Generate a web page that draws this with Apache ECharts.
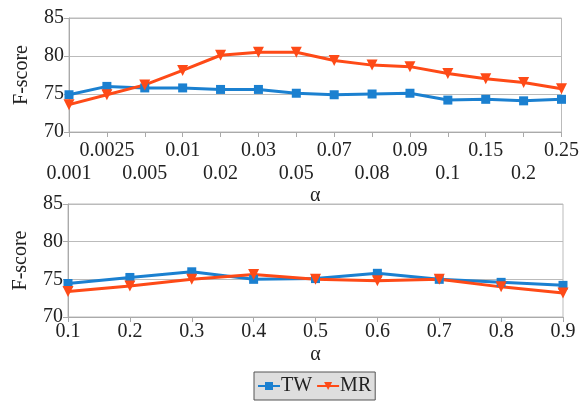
<!DOCTYPE html>
<html><head><meta charset="utf-8">
<script src="https://cdn.jsdelivr.net/npm/echarts@6/dist/echarts.min.js"></script>
<style>html,body{margin:0;padding:0;background:#fff}#c{width:582px;height:403px}</style>
</head><body><div id="c"></div>
<script>
const topCats = ['0.001','0.0025','0.005','0.01','0.02','0.03','0.05','0.07','0.08','0.09','0.1','0.15','0.2','0.25'];
const topTW = [74.9,76.0,75.8,75.8,75.6,75.6,75.1,74.9,75.0,75.1,74.2,74.3,74.1,74.3];
const topMR = [73.6,74.9,76.2,78.1,80.1,80.5,80.5,79.4,78.8,78.6,77.7,77.0,76.5,75.7];
const botCats = ['0.1','0.2','0.3','0.4','0.5','0.6','0.7','0.8','0.9'];
const botTW = [74.45,75.25,76.0,75.0,75.1,75.8,75.0,74.6,74.2];
const botMR = [73.4,74.1,75.0,75.65,75.0,74.8,75.0,74.0,73.2];
const yTicks = [70,75,80,85];

const BLUE = '#1b80d0', RED = '#fe4a17';
const FONT = '"Liberation Serif", "DejaVu Serif", serif';
const txt = {fontFamily: FONT, fontSize: 20, color: '#222'};

function yAx(gi){
  return {
    gridIndex: gi, type: 'value', min: yTicks[0], max: yTicks[yTicks.length-1], interval: 5,
    name: 'F-score', nameLocation: 'middle', nameGap: 37, nameRotate: 90,
    nameTextStyle: Object.assign({}, txt),
    axisLine: {show: true, lineStyle: {color: '#aaa', width: 1}},
    axisTick: {show: true, length: 5, lineStyle: {color: '#aaa'}},
    axisLabel: Object.assign({margin: 5}, txt),
    splitLine: {show: true, lineStyle: {color: '#bbb', width: 1}}
  };
}

const chart = echarts.init(document.getElementById('c'), null, {renderer: 'canvas'});
chart.setOption({
  animation: false,
  grid: [
    {left: 69, right: 18, top: 18, bottom: 271, show: true, borderColor: '#bbb', borderWidth: 1, backgroundColor: 'transparent'},
    {left: 68, right: 19, top: 204, bottom: 86, show: true, borderColor: '#bbb', borderWidth: 1, backgroundColor: 'transparent'}
  ],
  xAxis: [
    {gridIndex: 0, type: 'category', data: topCats, boundaryGap: false,
     name: 'α', nameLocation: 'middle', nameGap: 46, nameTextStyle: Object.assign({}, txt),
     axisLine: {lineStyle: {color: '#aaa'}},
     axisTick: {show: true, length: 5, alignWithLabel: true, lineStyle: {color: '#aaa'}},
     axisLabel: Object.assign({interval: 0, margin: 7, lineHeight: 23,
       formatter: function(v, i){ return i % 2 === 0 ? '\n' + v : v; }}, txt),
     splitLine: {show: false}},
    {gridIndex: 1, type: 'category', data: botCats, boundaryGap: false,
     name: 'α', nameLocation: 'middle', nameGap: 28, nameTextStyle: Object.assign({}, txt),
     axisLine: {lineStyle: {color: '#aaa'}},
     axisTick: {show: true, length: 5, lineStyle: {color: '#aaa'}},
     axisLabel: Object.assign({interval: 0, margin: 5}, txt),
     splitLine: {show: false}}
  ],
  yAxis: [yAx(0), yAx(1)],
  legend: {
    bottom: 3, left: 254, orient: 'horizontal',
    data: ['TW','MR'],
    backgroundColor: '#dedede', borderColor: '#555', borderWidth: 1, borderRadius: 0,
    padding: [4, 4, 4, 3], itemGap: 4, itemWidth: 22, itemHeight: 10,
    textStyle: Object.assign({}, txt, {padding: [0,0,0,-4]})
  },
  series: [
    {name: 'TW', type: 'line', xAxisIndex: 0, yAxisIndex: 0, data: topTW,
     symbol: 'rect', symbolSize: 9, lineStyle: {width: 3, color: BLUE}, itemStyle: {color: BLUE}},
    {name: 'MR', type: 'line', xAxisIndex: 0, yAxisIndex: 0, data: topMR,
     symbol: 'triangle', symbolRotate: 180, symbolSize: 11, lineStyle: {width: 3, color: RED}, itemStyle: {color: RED}},
    {name: 'TW', type: 'line', xAxisIndex: 1, yAxisIndex: 1, data: botTW,
     symbol: 'rect', symbolSize: 9, lineStyle: {width: 3, color: BLUE}, itemStyle: {color: BLUE}},
    {name: 'MR', type: 'line', xAxisIndex: 1, yAxisIndex: 1, data: botMR,
     symbol: 'triangle', symbolRotate: 180, symbolSize: 11, lineStyle: {width: 3, color: RED}, itemStyle: {color: RED}}
  ]
});
</script></body></html>
